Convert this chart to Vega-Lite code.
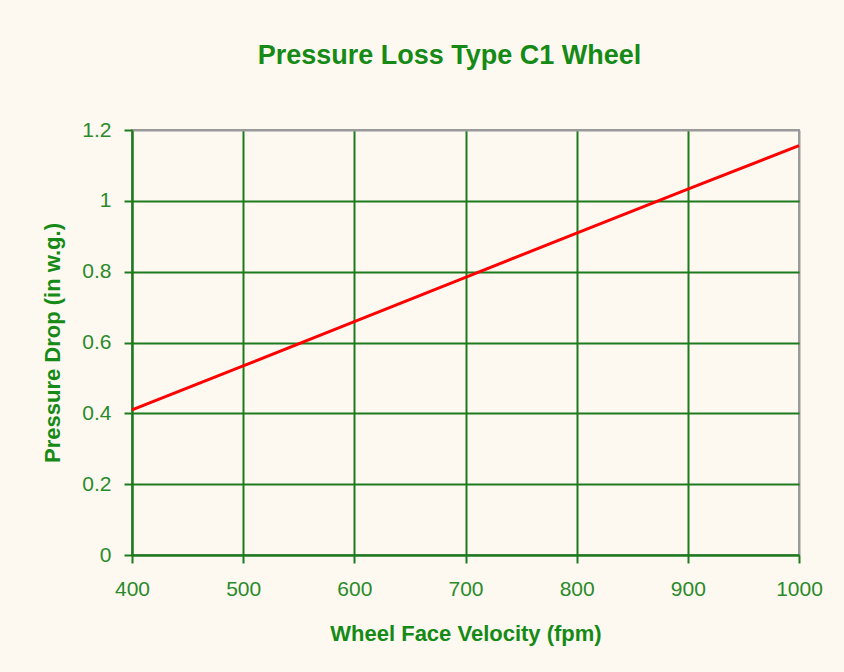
{
  "$schema": "https://vega.github.io/schema/vega-lite/v6.json",
  "width": 667,
  "height": 425,
  "autosize": "none",
  "padding": {"left": 132, "top": 130, "right": 45, "bottom": 117},
  "background": "#FDF9F0",
  "title": {
    "text": "Pressure Loss Type C1 Wheel",
    "font": "Liberation Sans",
    "fontSize": 27,
    "fontWeight": "bold",
    "color": "#168A16",
    "anchor": "middle",
    "dx": -16,
    "offset": 28,
    "baseline": "alphabetic"
  },
  "data": {
    "values": [
      {"v": 400, "p": 0.41},
      {"v": 500, "p": 0.534},
      {"v": 600, "p": 0.659},
      {"v": 700, "p": 0.784},
      {"v": 800, "p": 0.909},
      {"v": 900, "p": 1.033},
      {"v": 1000, "p": 1.156}
    ]
  },
  "mark": {"type": "line", "color": "#FF0000", "strokeWidth": 3},
  "encoding": {
    "x": {
      "field": "v",
      "type": "quantitative",
      "scale": {"domain": [400, 1000], "nice": false, "zero": false},
      "axis": {
        "title": "Wheel Face Velocity (fpm)",
        "values": [400, 500, 600, 700, 800, 900, 1000],
        "format": "d",
        "labelFlush": false,
        "labelPadding": 15,
        "titlePadding": 24,
        "gridColor": {"condition": {"test": "datum.value == 1000", "value": "#9A9A9A"}, "value": "#1E7A1E"}
      }
    },
    "y": {
      "field": "p",
      "type": "quantitative",
      "scale": {"domain": [0, 1.2], "nice": false},
      "axis": {
        "title": "Pressure Drop (in w.g.)",
        "values": [0, 0.2, 0.4, 0.6, 0.8, 1, 1.2],
        "format": "~g",
        "labelFlush": false,
        "labelPadding": 13,
        "titlePadding": 17,
        "gridColor": {"condition": {"test": "datum.value == 1.2", "value": "#9A9A9A"}, "value": "#1E7A1E"}
      }
    }
  },
  "config": {
    "view": {"stroke": "#9A9A9A", "strokeWidth": 2},
    "axis": {
      "domainColor": "#1E7A1E",
      "domainWidth": 2,
      "gridWidth": 2,
      "gridOpacity": 1,
      "tickColor": "#1E7A1E",
      "tickWidth": 2,
      "tickSize": 8,
      "labelFont": "Liberation Sans",
      "labelFontSize": 21,
      "labelColor": "#2A8A2A",
      "titleFont": "Liberation Sans",
      "titleFontSize": 22,
      "titleFontWeight": "bold",
      "titleColor": "#168A16"
    }
  }
}
